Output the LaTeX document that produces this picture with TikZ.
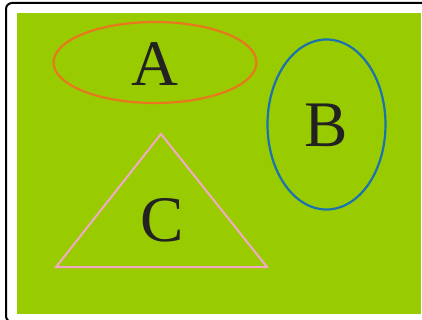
\documentclass[tikz,border=0pt]{standalone}
\usepackage{fontspec}
\setmainfont{Liberation Serif}
\usepackage{tikz}
\usetikzlibrary{positioning, shapes.geometric}
\definecolor{leaf}{HTML}{99CC00}
\definecolor{ringA}{HTML}{E8771E}
\definecolor{ringB}{HTML}{1A72B0}
\definecolor{edgeC}{HTML}{F2A9C6}
\definecolor{ink}{HTML}{222222}
\tikzset{
  letter/.style={text=ink, font=\fontsize{65}{65}\selectfont, inner sep=0pt},
  ring/.style={draw, ellipse, line width=2.2pt, inner sep=0pt}
}
\begin{document}
\begin{tikzpicture}[x=1pt, y=-1pt]
  \useasboundingbox (0,0) rectangle (422,320);
  \clip (0,0) rectangle (422,320);
  % Frame and background
  \fill[white] (0,0) rectangle (422,320);
  \draw[line width=2pt, rounded corners=6pt] (6,3) rectangle (440,322);
  \fill[leaf] (17,13) rectangle (421,314);

  % Ellipses
  \node[ring, draw=ringA, minimum width=203pt, minimum height=81pt] (ellA) at (155,62.5) {};
  \node[ring, draw=ringB, minimum width=118pt, minimum height=170pt] (ellB) at (326.5,124.5) {};

  % Triangle
  \draw[edgeC, line width=2pt, line join=miter] (161,134) -- (267,267) -- (56,267) -- cycle;

  % Labels
  \node[letter] (A) at (155,64) {A};
  \node[letter] (B) at (326,125) {B};
  \node[letter] (C) at (162,220) {C};
\end{tikzpicture}
\end{document}
